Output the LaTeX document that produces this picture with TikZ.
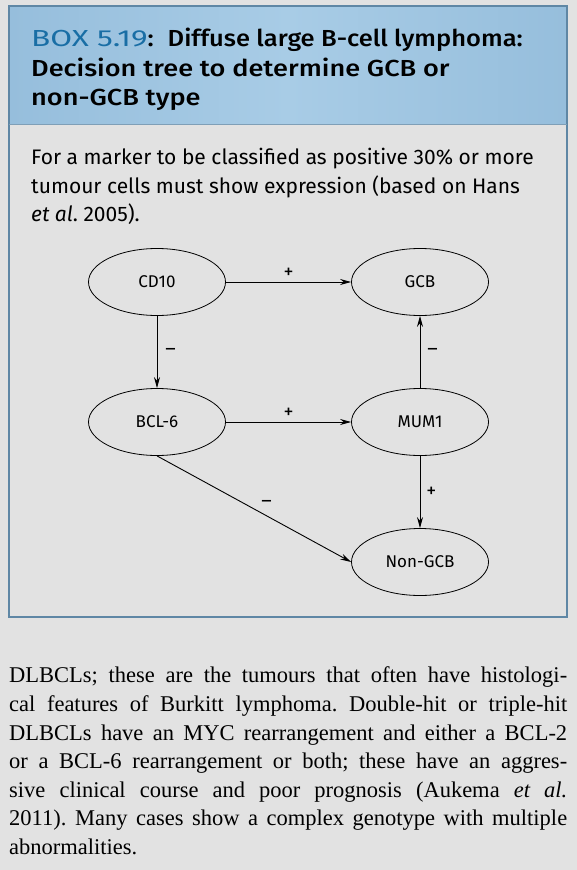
\documentclass[tikz,border=0pt]{standalone}
\usepackage{fontspec}
\setmainfont{Liberation Serif}
\newfontfamily\boxfont{Fira Sans}
\newfontfamily\boxfontwide{Fira Sans}[FakeStretch=1.36]
\newfontfamily\boxfontmed{Fira Sans Medium}[FakeStretch=1.17]
\newfontfamily\boxfontmedb{Fira Sans Medium}[FakeStretch=1.10]
\usetikzlibrary{shapes.geometric,arrows.meta}
\definecolor{bggray}{RGB}{226,226,226}
\definecolor{hdrblue}{RGB}{150,190,220}
\definecolor{hdrlight}{RGB}{168,204,230}
\definecolor{frameblue}{RGB}{95,135,165}
\definecolor{boxnum}{RGB}{25,110,165}
\tikzset{
  x=1pt,y=-1pt,
  oval/.style={ellipse, draw=black, line width=0.8pt, minimum width=137pt, minimum height=67pt, inner sep=0pt, font=\boxfont\fontsize{17}{20}\selectfont},
  conn/.style={line width=0.9pt, -{Stealth[length=11pt,width=6pt]}},
  sign/.style={font=\boxfont\fontsize{20}{22}\selectfont, inner sep=1pt},
  titleline/.style={anchor=base west, inner sep=0pt, font=\boxfontmed\fontsize{23.2}{28}\selectfont},
  subline/.style={anchor=base west, inner sep=0pt, font=\boxfont\fontsize{21}{24}\selectfont},
  bodyline/.style={anchor=base west, inner sep=0pt, font=\fontsize{22.5}{26}\selectfont}
}
\begin{document}
\frenchspacing
\begin{tikzpicture}
\useasboundingbox (0,0) rectangle (577,870);
\fill[bggray] (0,0) rectangle (577,870);
% header
\shade[left color=hdrblue, right color=hdrblue, middle color=hdrlight] (9,6) rectangle (567,124);
\draw[frameblue, line width=1.5pt] (9,6) rectangle (567,617);
\draw[frameblue!80, line width=1pt] (9,124) -- (567,124);
% title
\node[titleline] (t1) at (31,46) {{\boxfontwide\color{boxnum}BOX 5.19}\boxfontmedb:\hspace{14pt}Diffuse large B-cell lymphoma:};
\node[titleline] (t2) at (31,76) {Decision tree to determine GCB or};
\node[titleline] (t3) at (31,105) {non-GCB type};
% subtitle
\node[subline] (s1) at (31,164) {For a marker to be classified as positive 30\% or more};
\node[subline] (s2) at (31,193) {tumour cells must show expression (based on Hans};
\node[subline] (s3) at (31,221) {\itshape et al\upshape. 2005).};
% nodes
\node[oval] (cd10) at (157,282) {CD10};
\node[oval] (gcb) at (420,282) {GCB};
\node[oval] (bcl6) at (157,422) {BCL-6};
\node[oval] (mum1) at (420,422) {MUM1};
\node[oval] (ngcb) at (420,562) {Non-GCB};
% connectors
\draw[conn] (cd10) -- node[sign, above=2pt] {+} (gcb);
\draw[conn] (cd10) -- node[sign, right=7pt] {–} (bcl6);
\draw[conn] (bcl6) -- node[sign, above=2pt] {+} (mum1);
\draw[conn] (mum1) -- node[sign, right=6pt] {–} (gcb);
\draw[conn] (mum1) -- node[sign, right=5pt] {+} (ngcb);
\draw[conn] (bcl6.south) -- node[sign, pos=0.52, above right=2pt] {–} (ngcb.west);
% body text
\node[bodyline] (b1) at (9,682) {\makebox[558pt][s]{DLBCLs; these are the tumours that often have histologi-}};
\node[bodyline] (b2) at (9,711) {\makebox[558pt][s]{cal features of Burkitt lymphoma. Double-hit or triple-hit}};
\node[bodyline] (b3) at (9,740) {\makebox[558pt][s]{DLBCLs have an MYC rearrangement and either a BCL-2}};
\node[bodyline] (b4) at (9,768) {\makebox[558pt][s]{or a BCL-6 rearrangement or both; these have an aggres-}};
\node[bodyline] (b5) at (9,797) {\makebox[558pt][s]{sive clinical course and poor prognosis (Aukema \itshape et al.}};
\node[bodyline] (b6) at (9,825) {\makebox[558pt][s]{2011). Many cases show a complex genotype with multiple}};
\node[bodyline] (b7) at (9,854) {abnormalities.};
\end{tikzpicture}
\end{document}
